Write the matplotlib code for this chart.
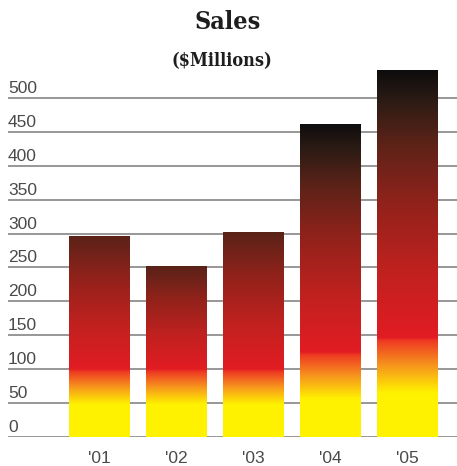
import numpy as np
import matplotlib
matplotlib.use("Agg")
import matplotlib.pyplot as plt
from matplotlib.colors import to_rgb
from matplotlib import transforms

years = ["'01", "'02", "'03", "'04", "'05"]
sales = [297, 252, 302, 462, 541]
yticks = [0, 50, 100, 150, 200, 250, 300, 350, 400, 450, 500]

# colours above the red band, bottom (red) to top (black)
upper = [(0.00, "#e21c23"), (0.25, "#c0211f"), (0.50, "#92221b"),
         (0.72, "#5e2318"), (0.88, "#2e1c15"), (1.00, "#0d0d0d")]


def bar_colours(h, n=400):
    y = np.linspace(0, h, n)
    ye = max(48, 0.12 * h)
    r = max(100, 0.27 * h)
    top = 1.0 if h >= 420 else 0.74
    # compress the upper colour range for short bars
    up = np.array([u for u, _ in upper])
    upos = r + (h - r) * up / top
    pos = [0, ye, (ye + r) / 2, r - 4] + list(upos)
    cols = ["#fff200", "#fff200", "#f7941d", "#ee3a23"] + [c for _, c in upper]
    cols = [to_rgb(c) for c in cols]
    rgb = np.zeros((n, 3))
    for k in range(3):
        rgb[:, k] = np.interp(y, pos, [c[k] for c in cols])
    return rgb[:, None, :]


fig = plt.figure(figsize=(4.57, 4.66), dpi=100)
ax = fig.add_axes([8 / 457, 0.0622, 1 - 8 / 457, 0.815])

x = np.arange(len(years))
bars = ax.bar(x, sales, width=0.79, color="none", edgecolor="none", zorder=3)

for rect, h in zip(bars, sales):
    x0 = rect.get_x()
    w = rect.get_width()
    im = ax.imshow(bar_colours(h), extent=[x0, x0 + w, 0, h], origin="lower",
                   aspect="auto", zorder=2, interpolation="bilinear")
    im.set_clip_path(rect)

for t in yticks:
    ax.axhline(t, color="#8f8f8f", lw=1.3, zorder=1)

trans = transforms.blended_transform_factory(ax.transAxes, ax.transData)
for t in yticks:
    ax.text(0.0, t + 3, str(t), transform=trans, ha="left", va="bottom",
            fontsize=12.5, color="#4a4a4a", family="Liberation Sans")

ax.set_xlim((8 - 99.5) / 77, (457 - 99.5) / 77)
ax.set_ylim(0, 560)
ax.set_xticks(x)
ax.set_xticklabels(years, fontsize=12.5, color="#4a4a4a", family="Liberation Sans")
ax.tick_params(axis="x", length=0, pad=10)
ax.set_yticks([])
for s in ax.spines.values():
    s.set_visible(False)

fig.text(228 / 457, 1 - 22 / 466, "Sales", ha="center", va="center",
         fontsize=18, fontweight="bold", family="DejaVu Serif",
         fontstretch="condensed", color="#1e1e1e")
fig.text(222 / 457, 1 - 61 / 466, "($Millions)", ha="center", va="center",
         fontsize=13, fontweight="bold", family="DejaVu Serif",
         fontstretch="condensed", color="#1e1e1e")

fig.savefig("out.png", dpi=100)
